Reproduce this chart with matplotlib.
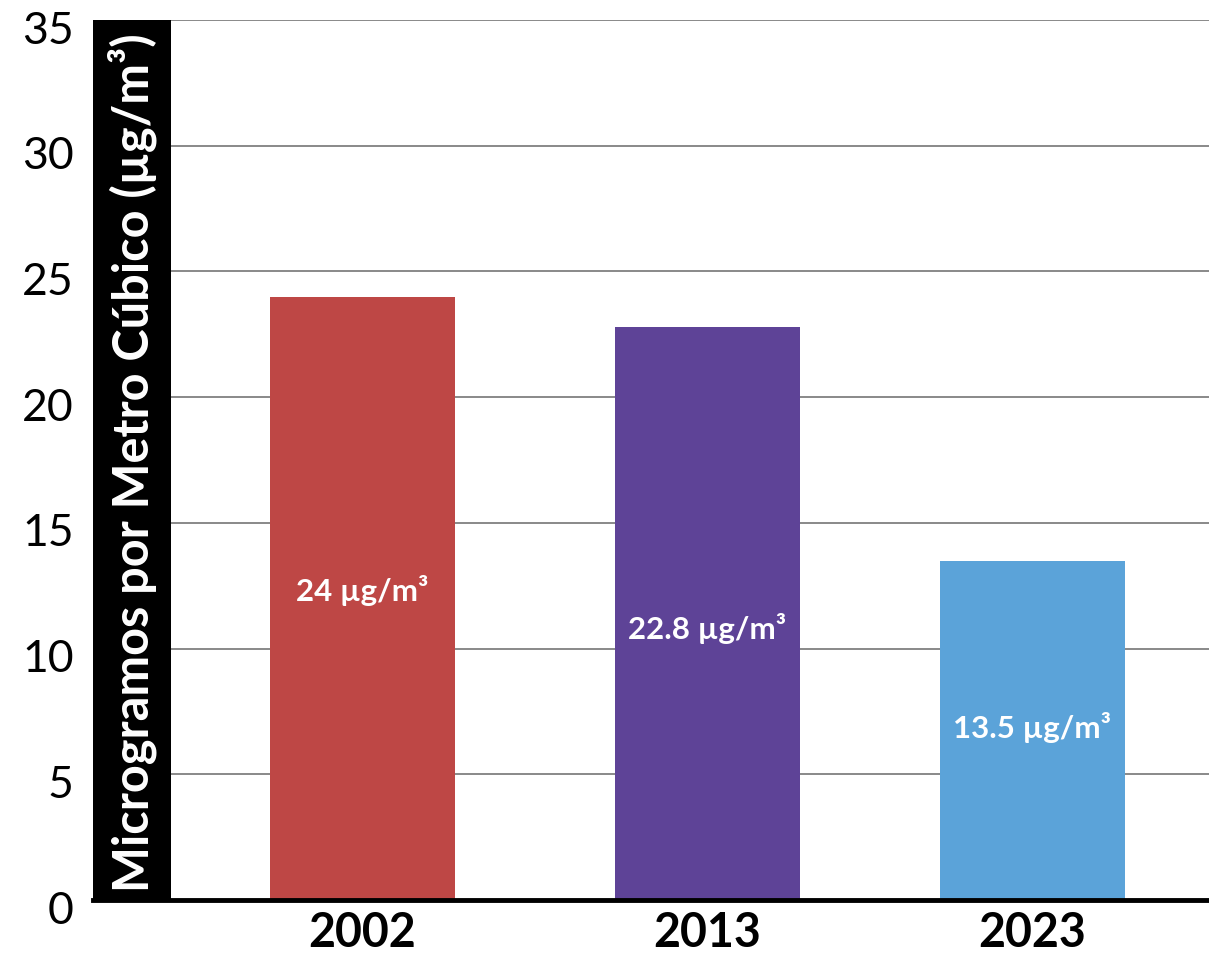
import matplotlib
matplotlib.use("Agg")
import matplotlib.pyplot as plt
import matplotlib.transforms as mtransforms
from matplotlib.patches import Rectangle

years = ["2002", "2013", "2023"]
values = [24.0, 22.8, 13.5]
labels = ["24 µg/m³", "22.8 µg/m³", "13.5 µg/m³"]
colors = ["#BE4745", "#5E4397", "#5BA3D9"]
yticks = [0, 5, 10, 15, 20, 25, 30, 35]
ylabel = "Microgramos por Metro Cúbico (µg/m³)"

# layout (positions of bars and value labels)
bar_pos = [0, 1, 1.943]
label_y = [11.9, 10.4, 6.45]

plt.rcParams['font.family'] = ['Lato', 'DejaVu Sans']

W, H = 1209, 958
fig = plt.figure(figsize=(W / 100, H / 100), dpi=100)
ax = fig.add_axes([93 / W, 58 / H, 1 - 93 / W, (900 - 20) / H])

ax.bar(bar_pos, values, width=0.536, color=colors, zorder=3)
for xi, ly, lab in zip(bar_pos, label_y, labels):
    ax.text(xi, ly, lab, ha='center', va='baseline', color='white',
            fontsize=22.5, fontweight='bold', zorder=4)

ax.set_xlim(-0.78, 2.455)
ax.set_ylim(0, 35)
ax.set_yticks(yticks)
ax.set_xticks(bar_pos)
ax.set_xticklabels(years, fontsize=33.5, fontweight='bold')
ax.set_yticklabels([str(t) for t in yticks], fontsize=32)
ax.tick_params(axis='both', length=0)
ax.tick_params(axis='y', pad=14)
ax.tick_params(axis='x', pad=8)
off = mtransforms.ScaledTranslation(0, -7 / 100, fig.dpi_scale_trans)
for t in ax.get_yticklabels():
    t.set_transform(t.get_transform() + off)

ax.grid(axis='y', color='#808080', linewidth=1.3, zorder=1)
for s in ['top', 'right', 'left']:
    ax.spines[s].set_visible(False)
ax.spines['bottom'].set_linewidth(3.5)
ax.spines['bottom'].set_color('black')
ax.spines['bottom'].set_zorder(5)

band_w = (171 - 93) / (W - 93)
ax.add_patch(Rectangle((0, 0), band_w, 1, transform=ax.transAxes,
                       facecolor='black', edgecolor='none', zorder=4, clip_on=False))
ax.text(band_w / 2, 0.497, ylabel, transform=ax.transAxes, rotation=90,
        ha='center', va='center', color='white', fontsize=35, fontweight='bold', zorder=6)

fig.savefig("out.png", dpi=100)
